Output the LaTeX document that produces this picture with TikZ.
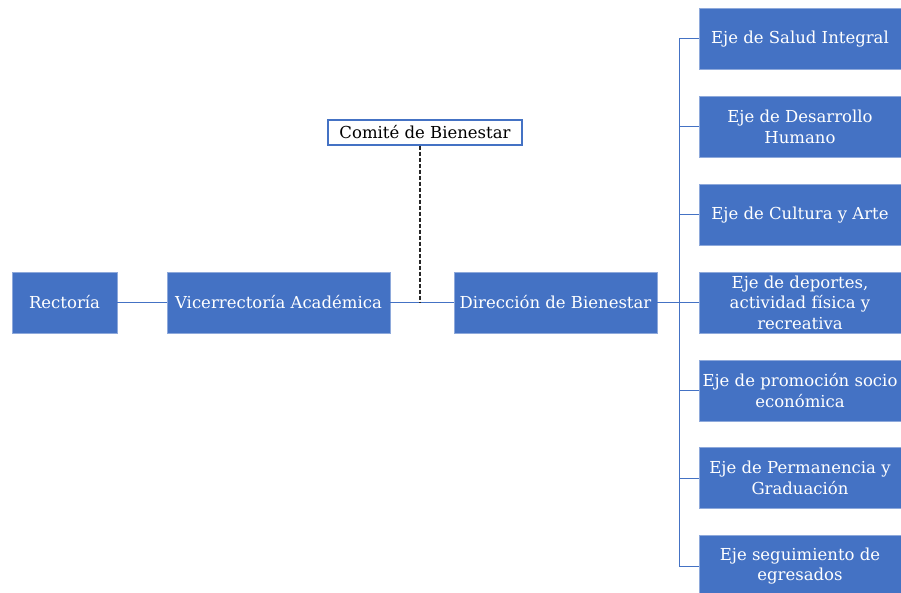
\documentclass[tikz,border=0pt]{standalone}
\usepackage{fontspec}
\setmainfont{DejaVu Serif}
\definecolor{boxblue}{HTML}{4472C4}
\definecolor{boxedge}{HTML}{8EA9DB}
\definecolor{linkblue}{HTML}{4472C4}
\begin{document}
\begin{tikzpicture}[x=1pt,y=-1pt,
  bluebox/.style={draw=boxedge,line width=0.8pt,fill=boxblue,text=white,inner sep=0pt,
    align=center,font=\fontsize{16.5}{20.5}\selectfont},
  comitebox/.style={draw=boxblue,line width=1.4pt,fill=white,text=black,inner sep=0pt,
    font=\fontsize{16.5}{20.5}\selectfont},
  link/.style={draw=linkblue,line width=1pt},
  dashlink/.style={draw=black!85,line width=1.5pt,dash pattern=on 4pt off 2pt}]
\useasboundingbox (0,0) rectangle (901,593);
\clip (0,0) rectangle (901,593);
\node[bluebox,minimum width=105pt,minimum height=61pt] (rect) at (64.5,302.5) {Rectoría};
\node[bluebox,minimum width=223pt,minimum height=61pt] (vice) at (278.5,302.5) {Vicerrectoría Académica};
\node[bluebox,minimum width=203pt,minimum height=61pt] (dir) at (555.5,302.5) {Dirección de Bienestar};
\node[comitebox,minimum width=194pt,minimum height=25pt] (com) at (425,132.5) {Comité de Bienestar};
\coordinate (junc) at (420,302.5);
\coordinate (spine) at (679,302.5);
\foreach \i/\y/\t in {1/39/{Eje de Salud Integral},
  2/127/{Eje de Desarrollo\\Humano},
  3/215/{Eje de Cultura y Arte},
  4/302.5/{Eje de deportes,\\actividad física y\\recreativa},
  5/390.5/{Eje de promoción socio\\económica},
  6/478/{Eje de Permanencia y\\Graduación},
  7/566/{Eje seguimiento de\\egresados}}{
  \node[bluebox,minimum width=202pt,minimum height=61pt] (eje\i) at (800,\y) {\t};
}
\draw[link] (rect.east) -- (vice.west);
\draw[link] (vice.east) -- (dir.west);
\draw[dashlink] (com.south -| junc) -- (junc);
\draw[link] (dir.east) -- (spine);
\draw[link] (eje1.west -| spine) -- (eje7.west -| spine);
\foreach \i in {1,...,7}{
  \draw[link] (eje\i.west -| spine) -- (eje\i.west);
}
\end{tikzpicture}
\end{document}
